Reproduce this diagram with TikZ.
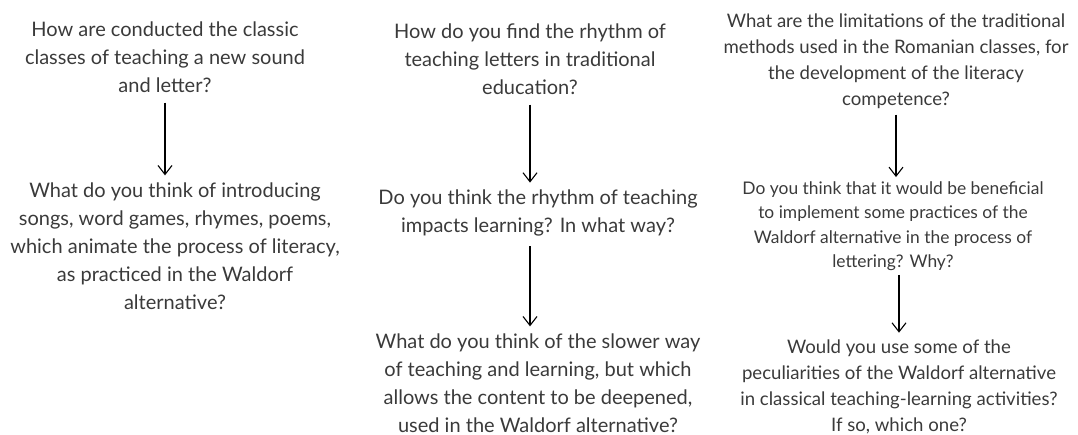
\documentclass[tikz,border=0pt]{standalone}
\usepackage{fontspec}
\setmainfont{Lato}
\usepackage{xcolor}
\usetikzlibrary{arrows.meta}
\definecolor{qtext}{RGB}{58,58,58}

\begin{document}
\begin{tikzpicture}[x=1pt,y=-1pt,
    main/.style = {align=center, text=qtext, font=\fontsize{20}{28}\selectfont, inner sep=2pt},
    wide/.style = {font=\fontsize{18.6}{26}\selectfont},
    small/.style = {font=\fontsize{17.4}{24.5}\selectfont},
    link/.style = {-{Straight Barb[length=9pt,width=14pt]}, line width=1.1pt, shorten <=8pt, shorten >=5pt}]
    \useasboundingbox (0,0) rectangle (1078,435);
    % first column
    \node[main] (1) at (165,57) {How are conducted the classic\\classes of teaching a new sound\\and letter?};
    \node[main] (2) at (175,246) {What do you think of introducing\\songs, word games, rhymes, poems,\\which animate the process of literacy,\\as practiced in the Waldorf\\alternative?};
    % second column
    \node[main] (3) at (530,59) {How do you find the rhythm of\\teaching letters in traditional\\education?};
    \node[main] (4) at (538,213) {Do you think the rhythm of teaching\\impacts learning? In what way?};
    \node[main] (5) at (538,383) {What do you think of the slower way\\of teaching and learning, but which\\allows the content to be deepened,\\used in the Waldorf alternative?};
    % third column
    \node[main,wide] (6) at (896,61) {What are the limitations of the traditional\\methods used in the Romanian classes, for\\the development of the literacy\\competence?};
    \node[main,small] (7) at (893,226) {Do you think that it would be beneficial\\to implement some practices of the\\Waldorf alternative in the process of\\lettering? Why?};
    \node[main,wide] (8) at (899,387) {Would you use some of the\\peculiarities of the Waldorf alternative\\in classical teaching-learning activities?\\If so, which one?};
    \draw[link] (1.south) -- (1.south |- 2.north);
    \draw[link] (3.south) -- (3.south |- 4.north);
    \draw[link] (4.south -| 3.south) -- (3.south |- 5.north);
    \draw[link, shorten <=4pt, shorten >=2pt] (6.south) -- (6.south |- 7.north);
    \draw[link, shorten <=2pt] (7.south -| 8.north) -- (8.north);
\end{tikzpicture}
\end{document}
